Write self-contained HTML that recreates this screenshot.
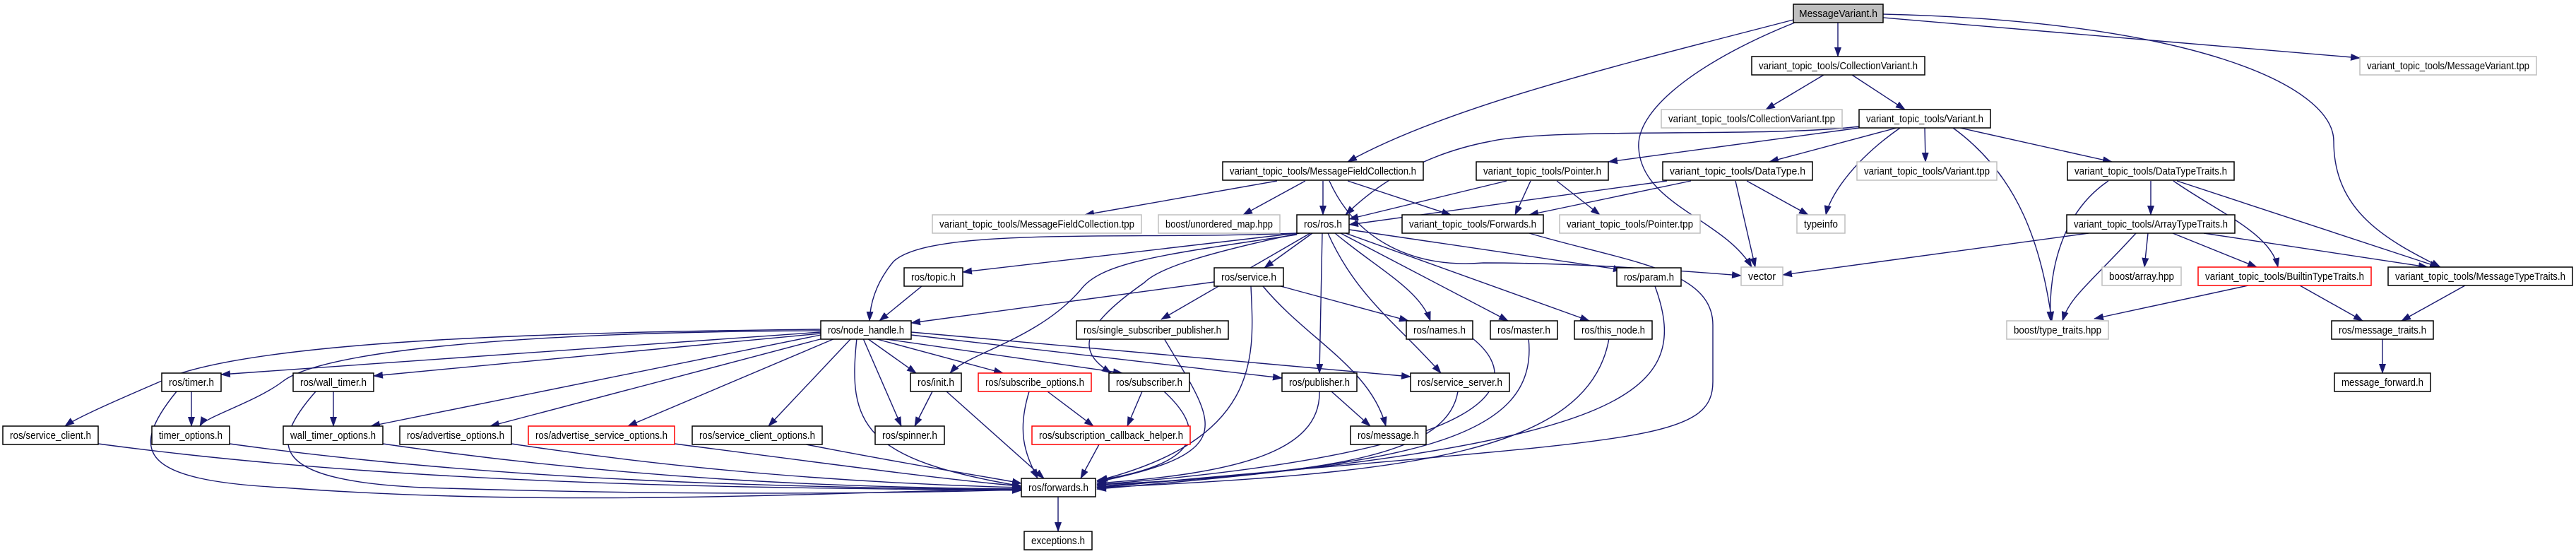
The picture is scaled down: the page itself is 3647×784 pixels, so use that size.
<!DOCTYPE html>
<html><head><meta charset="utf-8"><style>
html,body{margin:0;padding:0;background:#fff;}
svg{display:block;}
.e{fill:none;stroke:#191970;stroke-width:1.4;marker-end:url(#a);}
.n{fill:#fff;stroke:#000;stroke-width:1.5;}
.g{fill:#fff;stroke:#bfbfbf;stroke-width:1.5;}
.r{fill:#fff;stroke:#ff0000;stroke-width:1.5;}
.m{fill:#bfbfbf;stroke:#000;stroke-width:1.5;}
text{font-family:"Liberation Sans",sans-serif;font-size:15px;fill:#000;text-anchor:middle;}
</style></head><body>
<svg width="3647" height="784" viewBox="0 0 3647 784" xmlns="http://www.w3.org/2000/svg">
<defs><marker id="a" markerWidth="14" markerHeight="10" refX="13" refY="5" orient="auto" markerUnits="userSpaceOnUse"><path d="M0,0 L14,5 L0,10 z" fill="#191970"/></marker></defs>
<g>
<path class="e" d="M2539,28 C2300,90 2050,150 1908,229"/>
<path class="e" d="M2541,32 C2420,80 2315,150 2320,210 C2325,290 2440,310 2480,378"/>
<path class="e" d="M2602,32 L2602,80"/>
<path class="e" d="M2666,25 L3341,82"/>
<path class="e" d="M2666,20 C3100,30 3304,120 3304,200 C3304,300 3380,340 3455,378"/>
<path class="e" d="M2582,106 L2500,155"/>
<path class="e" d="M2622,106 L2697,155"/>
<path class="e" d="M2632,179 C2500,195 2200,180 2110,200 C2030,215 1960,250 1905,304"/>
<path class="e" d="M2632,181 L2277,229"/>
<path class="e" d="M2685,181 L2505,229"/>
<path class="e" d="M2690,181 C2620,230 2590,280 2585,304"/>
<path class="e" d="M2725,181 L2726,229"/>
<path class="e" d="M2775,181 L2990,229"/>
<path class="e" d="M2765,181 C2860,250 2890,350 2905,454"/>
<path class="e" d="M1882,256 C1920,340 2000,380 2100,372 C2250,372 2400,385 2465,390"/>
<path class="e" d="M2133,256 L1910,310"/>
<path class="e" d="M2167,256 L2145,304"/>
<path class="e" d="M2204,256 L2265,304"/>
<path class="e" d="M2360,256 L1910,318"/>
<path class="e" d="M2394,256 L2165,304"/>
<path class="e" d="M2473,256 L2560,304"/>
<path class="e" d="M2457,256 L2485,378"/>
<path class="e" d="M1808,256 L1536,304"/>
<path class="e" d="M1848,256 L1760,304"/>
<path class="e" d="M1873,256 L1873,304"/>
<path class="e" d="M1908,256 L2054,304"/>
<path class="e" d="M2985,256 C2920,300 2900,380 2903,454"/>
<path class="e" d="M3045,256 L3045,304"/>
<path class="e" d="M3077,256 C3140,300 3215,330 3225,378"/>
<path class="e" d="M3082,256 L3453,378"/>
<path class="e" d="M2957,330 L2524,389"/>
<path class="e" d="M3024,330 C2960,400 2930,420 2920,454"/>
<path class="e" d="M3041,330 L3036,378"/>
<path class="e" d="M3076,330 L3195,378"/>
<path class="e" d="M3120,330 L3437,378"/>
<path class="e" d="M3183,404 L2965,451"/>
<path class="e" d="M3256,404 L3345,454"/>
<path class="e" d="M3490,404 L3400,454"/>
<path class="e" d="M3373,479 L3373,528"/>
<path class="e" d="M2165,330 C2300,370 2425,380 2425,460 L2425,540 C2425,630 2300,620 1553,690"/>
<path class="e" d="M1836,330 C1600,340 1320,320 1265,370 C1240,400 1232,430 1231,454"/>
<path class="e" d="M1836,330 L1363,385"/>
<path class="e" d="M1836,332 C1650,360 1560,370 1530,410 C1470,480 1370,500 1345,528"/>
<path class="e" d="M1840,330 C1700,360 1640,380 1620,400 C1520,470 1530,500 1573,528"/>
<path class="e" d="M1855,330 L1644,452"/>
<path class="e" d="M1858,330 L1790,379"/>
<path class="e" d="M1872,330 L1868,528"/>
<path class="e" d="M1890,330 C1950,380 2010,410 2025,454"/>
<path class="e" d="M1898,330 L2135,454"/>
<path class="e" d="M1905,330 L2250,454"/>
<path class="e" d="M1910,325 L2297,382"/>
<path class="e" d="M1880,330 C1920,420 1980,460 2040,528"/>
<path class="e" d="M1719,399 L1290,457"/>
<path class="e" d="M1771,405 C1775,500 1790,620 1555,680"/>
<path class="e" d="M1788,405 C1850,480 1940,520 1962,603"/>
<path class="e" d="M1813,405 L1994,454"/>
<path class="e" d="M1305,405 L1245,454"/>
<path class="e" d="M1648,479 C1720,600 1760,640 1553,682"/>
<path class="e" d="M2085,479 C2160,540 2140,640 1553,686"/>
<path class="e" d="M2164,479 C2180,620 2000,660 1553,688"/>
<path class="e" d="M2278,479 C2250,640 2000,670 1553,690"/>
<path class="e" d="M2343,405 C2400,560 2300,630 1553,692"/>
<path class="e" d="M1162,466 C800,470 400,480 250,530 C180,560 110,590 92,603"/>
<path class="e" d="M1162,470 L313,530"/>
<path class="e" d="M1162,468 C700,470 450,500 400,540 C360,570 290,590 283,603"/>
<path class="e" d="M1162,472 L529,532"/>
<path class="e" d="M1162,474 L525,603"/>
<path class="e" d="M1165,479 L694,603"/>
<path class="e" d="M1182,479 L889,603"/>
<path class="e" d="M1205,479 L1088,603"/>
<path class="e" d="M1213,479 C1200,600 1220,650 1446,688"/>
<path class="e" d="M1222,479 L1276,603"/>
<path class="e" d="M1228,479 L1297,528"/>
<path class="e" d="M1238,479 L1420,528"/>
<path class="e" d="M1248,479 L1589,528"/>
<path class="e" d="M1290,474 L1815,535"/>
<path class="e" d="M1290,470 L1997,533"/>
<path class="e" d="M271,554 L271,603"/>
<path class="e" d="M250,554 C180,640 200,680 400,690 C800,720 1200,695 1446,692"/>
<path class="e" d="M472,554 L472,603"/>
<path class="e" d="M447,554 C380,630 380,680 600,690 C900,700 1200,700 1446,693"/>
<path class="e" d="M139,628 C600,690 1100,690 1446,694"/>
<path class="e" d="M325,628 C700,680 1100,690 1446,693"/>
<path class="e" d="M542,628 C900,680 1200,690 1446,692"/>
<path class="e" d="M724,628 C1000,670 1250,685 1446,690"/>
<path class="e" d="M955,628 C1200,660 1350,680 1446,688"/>
<path class="e" d="M1141,629 C1300,660 1400,675 1446,684"/>
<path class="e" d="M1320,554 L1295,603"/>
<path class="e" d="M1340,554 L1478,677"/>
<path class="e" d="M1483,554 L1548,603"/>
<path class="e" d="M1457,554 C1440,610 1450,640 1469,677"/>
<path class="e" d="M1617,554 L1596,603"/>
<path class="e" d="M1648,554 C1720,620 1680,660 1553,680"/>
<path class="e" d="M1556,629 L1530,677"/>
<path class="e" d="M1885,554 L1940,603"/>
<path class="e" d="M1868,554 C1870,640 1750,670 1553,684"/>
<path class="e" d="M2064,554 C2050,640 1900,670 1553,686"/>
<path class="e" d="M1498,703 L1498,752"/>
</g>
<g>
<rect class="m" x="2539" y="6" width="127" height="26"/><text x="2602.5" y="24" textLength="111" lengthAdjust="spacingAndGlyphs">MessageVariant.h</text>
<rect class="n" x="2480" y="80" width="245" height="26"/><text x="2602.5" y="98" textLength="225" lengthAdjust="spacingAndGlyphs">variant_topic_tools/CollectionVariant.h</text>
<rect class="g" x="3341" y="80" width="250" height="26"/><text x="3466" y="98" textLength="230" lengthAdjust="spacingAndGlyphs">variant_topic_tools/MessageVariant.tpp</text>
<rect class="g" x="2352" y="155" width="256" height="26"/><text x="2480" y="173" textLength="236" lengthAdjust="spacingAndGlyphs">variant_topic_tools/CollectionVariant.tpp</text>
<rect class="n" x="2632" y="155" width="186" height="26"/><text x="2725" y="173" textLength="166" lengthAdjust="spacingAndGlyphs">variant_topic_tools/Variant.h</text>
<rect class="n" x="1731" y="229" width="284" height="26"/><text x="1873" y="247" textLength="264" lengthAdjust="spacingAndGlyphs">variant_topic_tools/MessageFieldCollection.h</text>
<rect class="n" x="2090" y="229" width="187" height="26"/><text x="2183.5" y="247" textLength="167" lengthAdjust="spacingAndGlyphs">variant_topic_tools/Pointer.h</text>
<rect class="n" x="2354" y="229" width="212" height="26"/><text x="2460" y="247" textLength="192" lengthAdjust="spacingAndGlyphs">variant_topic_tools/DataType.h</text>
<rect class="g" x="2629" y="229" width="198" height="26"/><text x="2728" y="247" textLength="178" lengthAdjust="spacingAndGlyphs">variant_topic_tools/Variant.tpp</text>
<rect class="n" x="2927" y="229" width="236" height="26"/><text x="3045" y="247" textLength="216" lengthAdjust="spacingAndGlyphs">variant_topic_tools/DataTypeTraits.h</text>
<rect class="g" x="1320" y="304" width="296" height="26"/><text x="1468" y="322" textLength="276" lengthAdjust="spacingAndGlyphs">variant_topic_tools/MessageFieldCollection.tpp</text>
<rect class="g" x="1640" y="304" width="172" height="26"/><text x="1726" y="322" textLength="152" lengthAdjust="spacingAndGlyphs">boost/unordered_map.hpp</text>
<rect class="n" x="1836" y="304" width="74" height="26"/><text x="1873" y="322" textLength="54" lengthAdjust="spacingAndGlyphs">ros/ros.h</text>
<rect class="n" x="1985" y="304" width="200" height="26"/><text x="2085" y="322" textLength="180" lengthAdjust="spacingAndGlyphs">variant_topic_tools/Forwards.h</text>
<rect class="g" x="2208" y="304" width="199" height="26"/><text x="2307.5" y="322" textLength="179" lengthAdjust="spacingAndGlyphs">variant_topic_tools/Pointer.tpp</text>
<rect class="g" x="2544" y="304" width="68" height="26"/><text x="2578" y="322" textLength="48" lengthAdjust="spacingAndGlyphs">typeinfo</text>
<rect class="n" x="2926" y="304" width="238" height="26"/><text x="3045" y="322" textLength="218" lengthAdjust="spacingAndGlyphs">variant_topic_tools/ArrayTypeTraits.h</text>
<rect class="n" x="1280" y="379" width="83" height="26"/><text x="1321.5" y="397" textLength="63" lengthAdjust="spacingAndGlyphs">ros/topic.h</text>
<rect class="n" x="1719" y="379" width="98" height="26"/><text x="1768" y="397" textLength="78" lengthAdjust="spacingAndGlyphs">ros/service.h</text>
<rect class="n" x="2289" y="379" width="91" height="26"/><text x="2334.5" y="397" textLength="71" lengthAdjust="spacingAndGlyphs">ros/param.h</text>
<rect class="g" x="2465" y="378" width="59" height="26"/><text x="2494.5" y="396" textLength="39" lengthAdjust="spacingAndGlyphs">vector</text>
<rect class="g" x="2976" y="378" width="112" height="26"/><text x="3032" y="396" textLength="92" lengthAdjust="spacingAndGlyphs">boost/array.hpp</text>
<rect class="r" x="3112" y="378" width="245" height="26"/><text x="3234.5" y="396" textLength="225" lengthAdjust="spacingAndGlyphs">variant_topic_tools/BuiltinTypeTraits.h</text>
<rect class="n" x="3381" y="378" width="261" height="26"/><text x="3511.5" y="396" textLength="241" lengthAdjust="spacingAndGlyphs">variant_topic_tools/MessageTypeTraits.h</text>
<rect class="n" x="1162" y="454" width="128" height="26"/><text x="1226" y="472" textLength="108" lengthAdjust="spacingAndGlyphs">ros/node_handle.h</text>
<rect class="n" x="1524" y="454" width="215" height="26"/><text x="1631.5" y="472" textLength="195" lengthAdjust="spacingAndGlyphs">ros/single_subscriber_publisher.h</text>
<rect class="n" x="1991" y="454" width="94" height="26"/><text x="2038" y="472" textLength="74" lengthAdjust="spacingAndGlyphs">ros/names.h</text>
<rect class="n" x="2110" y="454" width="95" height="26"/><text x="2157.5" y="472" textLength="75" lengthAdjust="spacingAndGlyphs">ros/master.h</text>
<rect class="n" x="2229" y="454" width="110" height="26"/><text x="2284" y="472" textLength="90" lengthAdjust="spacingAndGlyphs">ros/this_node.h</text>
<rect class="g" x="2841" y="454" width="144" height="26"/><text x="2913" y="472" textLength="124" lengthAdjust="spacingAndGlyphs">boost/type_traits.hpp</text>
<rect class="n" x="3301" y="454" width="144" height="26"/><text x="3373" y="472" textLength="124" lengthAdjust="spacingAndGlyphs">ros/message_traits.h</text>
<rect class="n" x="229" y="528" width="84" height="26"/><text x="271" y="546" textLength="64" lengthAdjust="spacingAndGlyphs">ros/timer.h</text>
<rect class="n" x="415" y="528" width="114" height="26"/><text x="472" y="546" textLength="94" lengthAdjust="spacingAndGlyphs">ros/wall_timer.h</text>
<rect class="n" x="1289" y="528" width="72" height="26"/><text x="1325" y="546" textLength="52" lengthAdjust="spacingAndGlyphs">ros/init.h</text>
<rect class="r" x="1385" y="528" width="160" height="26"/><text x="1465" y="546" textLength="140" lengthAdjust="spacingAndGlyphs">ros/subscribe_options.h</text>
<rect class="n" x="1570" y="528" width="114" height="26"/><text x="1627" y="546" textLength="94" lengthAdjust="spacingAndGlyphs">ros/subscriber.h</text>
<rect class="n" x="1815" y="528" width="106" height="26"/><text x="1868" y="546" textLength="86" lengthAdjust="spacingAndGlyphs">ros/publisher.h</text>
<rect class="n" x="1997" y="528" width="140" height="26"/><text x="2067" y="546" textLength="120" lengthAdjust="spacingAndGlyphs">ros/service_server.h</text>
<rect class="n" x="3305" y="528" width="136" height="26"/><text x="3373" y="546" textLength="116" lengthAdjust="spacingAndGlyphs">message_forward.h</text>
<rect class="n" x="4" y="603" width="135" height="26"/><text x="71.5" y="621" textLength="115" lengthAdjust="spacingAndGlyphs">ros/service_client.h</text>
<rect class="n" x="215" y="603" width="110" height="26"/><text x="270" y="621" textLength="90" lengthAdjust="spacingAndGlyphs">timer_options.h</text>
<rect class="n" x="401" y="603" width="141" height="26"/><text x="471.5" y="621" textLength="121" lengthAdjust="spacingAndGlyphs">wall_timer_options.h</text>
<rect class="n" x="566" y="603" width="158" height="26"/><text x="645" y="621" textLength="138" lengthAdjust="spacingAndGlyphs">ros/advertise_options.h</text>
<rect class="r" x="748" y="603" width="207" height="26"/><text x="851.5" y="621" textLength="187" lengthAdjust="spacingAndGlyphs">ros/advertise_service_options.h</text>
<rect class="n" x="980" y="603" width="184" height="26"/><text x="1072" y="621" textLength="164" lengthAdjust="spacingAndGlyphs">ros/service_client_options.h</text>
<rect class="n" x="1239" y="603" width="98" height="26"/><text x="1288" y="621" textLength="78" lengthAdjust="spacingAndGlyphs">ros/spinner.h</text>
<rect class="r" x="1461" y="603" width="224" height="26"/><text x="1573" y="621" textLength="204" lengthAdjust="spacingAndGlyphs">ros/subscription_callback_helper.h</text>
<rect class="n" x="1912" y="603" width="107" height="26"/><text x="1965.5" y="621" textLength="87" lengthAdjust="spacingAndGlyphs">ros/message.h</text>
<rect class="n" x="1446" y="677" width="105" height="26"/><text x="1498.5" y="695" textLength="85" lengthAdjust="spacingAndGlyphs">ros/forwards.h</text>
<rect class="n" x="1450" y="752" width="96" height="26"/><text x="1498" y="770" textLength="76" lengthAdjust="spacingAndGlyphs">exceptions.h</text>
</g>
</svg>
</body></html>
